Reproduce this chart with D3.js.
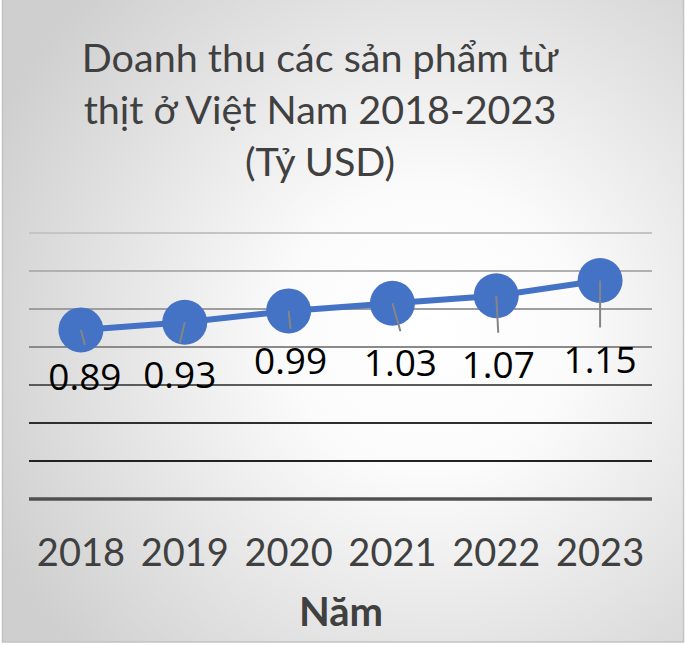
<!DOCTYPE html>
<html>
<head>
<meta charset="utf-8">
<script src="https://cdn.jsdelivr.net/npm/d3@7"></script>
<style>
  html, body { margin: 0; padding: 0; background: #fff; }
  svg { display: block; }
</style>
</head>
<body>
<div id="chart"></div>
<script>
// data
const years = ["2018", "2019", "2020", "2021", "2022", "2023"]
const revenue = [0.89, 0.93, 0.99, 1.03, 1.07, 1.15]
const yTicks = [0, 0.2, 0.4, 0.6, 0.8, 1.0, 1.2, 1.4]
const titleLines = ["Doanh thu các sản phẩm từ", "thịt ở Việt Nam 2018-2023", "(Tỷ USD)"]
const xTitle = "Năm"

// labels were dragged by hand in the original, keep their offsets (px) apart from the data
const labelShift = [[4, 60], [-5, 66], [2, 63], [8, 73], [2, 82], [0, 92]]

const W = 686, H = 645
const margin = { top: 233, right: 34, bottom: 146, left: 29 }
const width = W - margin.left - margin.right
const height = H - margin.top - margin.bottom

// grid colours go from light at the top to dark at the bottom
const gridColors = ["#505050", "#222", "#2e2e2e", "#5a5a5a", "#8a8a8a", "#9e9e9e", "#b0b0b0", "#c4c4c4"]

const svg = d3.select("#chart").append("svg")
  .attr("width", W)
  .attr("height", H)

const defs = svg.append("defs")
const grad = defs.append("radialGradient")
  .attr("id", "bg")
  .attr("gradientUnits", "userSpaceOnUse")
  .attr("cx", 430).attr("cy", 330).attr("r", 480)
grad.append("stop").attr("offset", "0%").attr("stop-color", "#ffffff")
grad.append("stop").attr("offset", "30%").attr("stop-color", "#fbfbfb")
grad.append("stop").attr("offset", "100%").attr("stop-color", "#cfcfcf")

svg.append("rect")
  .attr("x", 2.5).attr("y", -2)
  .attr("width", 681).attr("height", 644)
  .attr("fill", "url(#bg)")
  .attr("stroke", "#c2c2c2")
  .attr("stroke-width", 1.5)

// title
svg.append("text")
  .attr("text-anchor", "middle")
  .attr("font-family", "Lato, sans-serif")
  .attr("font-size", 39.5)
  .attr("fill", "#404040")
  .selectAll("tspan")
  .data(titleLines)
  .enter()
  .append("tspan")
  .attr("x", 320)
  .attr("y", (d, i) => 72 + i * 52)
  .text(d => d)

const g = svg.append("g")
  .attr("transform", "translate(" + margin.left + "," + margin.top + ")")

const x = d3.scaleBand().domain(years).range([0, width])
const y = d3.scaleLinear().domain([0, 1.4]).range([height, 0])

// gridlines
g.selectAll(".grid")
  .data(yTicks)
  .enter()
  .append("line")
  .attr("class", "grid")
  .attr("x1", 0)
  .attr("x2", width)
  .attr("y1", d => y(d))
  .attr("y2", d => y(d))
  .attr("stroke", (d, i) => gridColors[i])
  .attr("stroke-width", (d, i) => i == 0 ? 3.5 : 2)

// x axis labels
const xAxis = d3.axisBottom(x).tickSize(0).tickPadding(40)
g.append("g")
  .attr("transform", "translate(0," + height + ")")
  .call(xAxis)
  .call(ax => ax.select(".domain").remove())
  .selectAll("text")
  .attr("font-family", "Lato, sans-serif")
  .attr("font-size", 38)
  .attr("fill", "#404040")

svg.append("text")
  .attr("x", 341)
  .attr("y", 626)
  .attr("text-anchor", "middle")
  .attr("font-family", "Lato, sans-serif")
  .attr("font-weight", "bold")
  .attr("font-size", 40)
  .attr("fill", "#404040")
  .text(xTitle)

const cx = (d, i) => x(years[i]) + x.bandwidth() / 2

// line
const line = d3.line()
  .x((d, i) => cx(d, i))
  .y(d => y(d))

g.append("path")
  .datum(revenue)
  .attr("d", line)
  .attr("fill", "none")
  .attr("stroke", "#4472c4")
  .attr("stroke-width", 6)
  .attr("stroke-linejoin", "round")

g.selectAll(".dot")
  .data(revenue)
  .enter()
  .append("circle")
  .attr("class", "dot")
  .attr("cx", cx)
  .attr("cy", d => y(d))
  .attr("r", 22.5)
  .attr("fill", "#4472c4")

// leader lines
g.selectAll(".leader")
  .data(revenue)
  .enter()
  .append("line")
  .attr("class", "leader")
  .attr("x1", cx)
  .attr("y1", d => y(d))
  .attr("x2", (d, i) => cx(d, i) + labelShift[i][0])
  .attr("y2", (d, i) => y(d) + labelShift[i][1] - 45)
  .attr("stroke", "#858585")
  .attr("stroke-width", 2)

// data labels
g.selectAll(".lbl")
  .data(revenue)
  .enter()
  .append("text")
  .attr("class", "lbl")
  .attr("x", (d, i) => cx(d, i) + labelShift[i][0])
  .attr("y", (d, i) => y(d) + labelShift[i][1])
  .attr("text-anchor", "middle")
  .attr("font-family", "'Open Sans', sans-serif")
  .attr("font-size", 37)
  .attr("fill", "#000")
  .text(d => d3.format(".2f")(d))
</script>
</body>
</html>
